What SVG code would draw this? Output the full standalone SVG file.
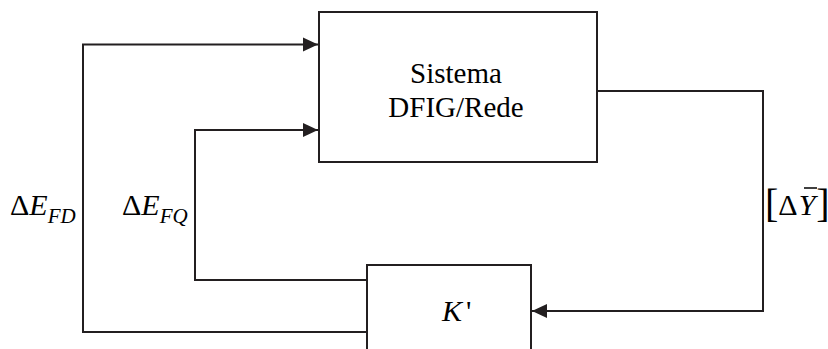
<svg xmlns="http://www.w3.org/2000/svg" width="828" height="349" viewBox="0 0 828 349">
<style>
.ln{fill:none;stroke:#231f20;stroke-width:2}
.bx{fill:#fff;stroke:#231f20;stroke-width:2}
text{font-family:"Liberation Serif","Times New Roman",serif;fill:#000}
.it{font-style:italic}
</style>
<defs>
<marker id="ah" markerUnits="userSpaceOnUse" markerWidth="16" markerHeight="16" refX="15" refY="8" orient="auto">
<path d="M0,1 L15,8 L0,15 Z" fill="#231f20"/>
</marker>
</defs>
<g id="connectors">
<polyline class="ln" points="367,332 83,332 83,44.5 318,44.5" marker-end="url(#ah)"/>
<polyline class="ln" points="367,280 195,280 195,130 318,130" marker-end="url(#ah)"/>
<polyline class="ln" points="597,91 763,91 763,311 532,311" marker-end="url(#ah)"/>
</g>
<g id="sistema">
<rect class="bx" x="319" y="12" width="278" height="150"/>
<text x="456" y="83" font-size="29" text-anchor="middle">Sistema</text>
<text x="456" y="117" font-size="29" text-anchor="middle">DFIG/Rede</text>
</g>
<g id="kprime">
<rect class="bx" x="367" y="265" width="164" height="100"/>
<text x="442" y="321" font-size="30"><tspan class="it">K</tspan><tspan dx="4">'</tspan></text>
</g>
<g id="labels">
<text x="10" y="215" font-size="30">Δ<tspan class="it">E</tspan><tspan class="it" font-size="21" dy="8">FD</tspan></text>
<text x="122" y="215" font-size="30">Δ<tspan class="it">E</tspan><tspan class="it" font-size="21" dy="8">FQ</tspan></text>
<text x="765" y="217" font-size="40">[<tspan font-size="30" dy="-2">Δ</tspan><tspan class="it" font-size="30" dx="1">Y</tspan><tspan dx="1" dy="2">]</tspan></text>
<line x1="804" y1="188" x2="817" y2="188" stroke="#000" stroke-width="1.5"/>
</g>
</svg>
